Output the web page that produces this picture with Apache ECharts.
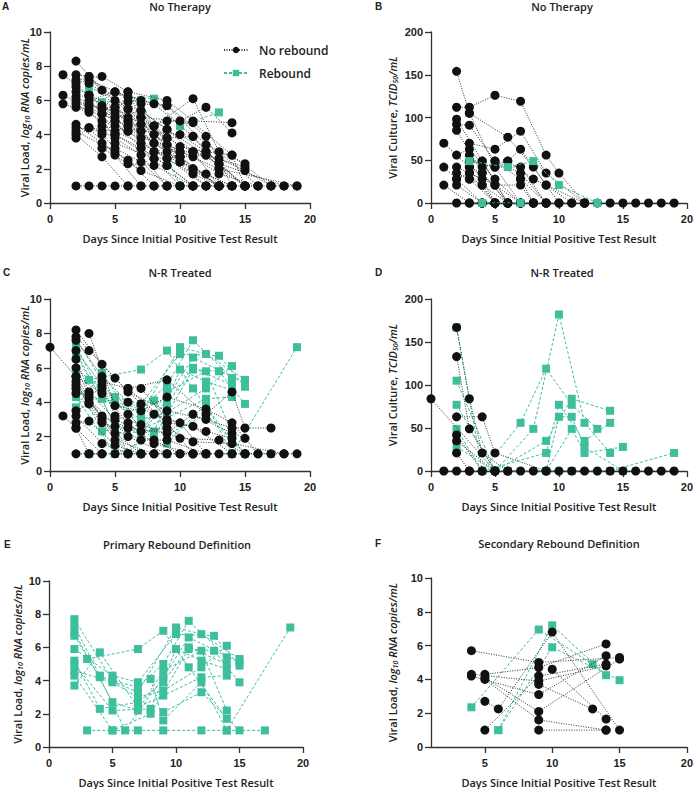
<!DOCTYPE html>
<html>
<head>
<meta charset="utf-8">
<title>Viral load and culture by day</title>
<script src="https://cdn.jsdelivr.net/npm/echarts@6/dist/echarts.min.js"></script>
<style>
  html, body { margin: 0; padding: 0; background: #fff; }
</style>
</head>
<body>
<div id="chart" style="width:696px;height:789px;"></div>
<script type="text/javascript">
// tick values
var dayTicks = [0, 5, 10, 15, 20];
var dayTicksF = [5, 10, 15, 20];
var loadTicks = [0, 2, 4, 6, 8, 10];
var cultureTicks = [0, 50, 100, 150, 200];

// A: no therapy, viral load (log10 copies/mL), one array per patient [day, value]
var noTherapyLoadNoRebound = [
  [[1,7.5],[3,6.3],[5,4.8],[7,3.2],[9,2.2],[11,1.0]],
  [[1,6.3],[4,5.2],[6,4.5],[9,3.0],[12,1.0]],
  [[1,5.8],[3,5.3],[5,4.0],[8,2.6],[10,1.0]],
  [[2,8.3],[4,6.6],[6,5.5],[8,4.0],[10,2.7],[13,1.0]],
  [[2,7.5],[3,7.4],[5,5.6],[7,4.2],[9,2.6],[12,1.0]],
  [[2,7.2],[4,7.4],[6,6.5],[9,6.0],[11,4.8],[14,4.7]],
  [[2,7.0],[3,7.2],[6,6.2],[8,5.8],[11,3.9],[13,2.3],[15,1.0]],
  [[2,6.8],[4,5.7],[6,4.8],[8,3.5],[11,2.0],[14,1.0]],
  [[2,6.5],[3,6.0],[5,6.5],[7,5.8],[9,5.7],[12,3.4],[15,2.3]],
  [[2,6.2],[5,5.0],[7,5.4],[9,4.3],[12,2.8],[15,2.1]],
  [[2,6.0],[3,5.7],[5,5.4],[7,5.0],[10,4.8],[12,5.6],[14,4.1]],
  [[2,5.8],[4,4.8],[6,4.2],[8,3.0],[10,2.4],[13,1.0]],
  [[2,5.6],[3,5.5],[5,4.5],[7,3.8],[9,3.4],[11,2.7],[13,1.7],[16,1.0]],
  [[2,4.6],[4,3.5],[6,2.5],[8,1.0]],
  [[2,4.4],[4,4.2],[5,3.8],[7,2.8],[9,1.0]],
  [[2,4.2],[5,3.0],[7,1.9],[10,1.0]],
  [[2,4.0],[4,2.7],[6,1.0]],
  [[2,3.8],[3,4.4],[5,2.8],[7,1.0]],
  [[2,1.0],[3,1.0],[4,1.0],[5,1.0],[6,1.0],[7,1.0],[8,1.0],[9,1.0],[10,1.0],[11,1.0],[12,1.0],[13,1.0],[14,1.0],[15,1.0],[16,1.0],[17,1.0],[18,1.0],[19,1.0]],
  [[3,7.0],[5,6.0],[7,4.6],[9,3.8],[11,3.0],[13,2.6],[15,1.9],[17,1.0]],
  [[3,6.3],[5,5.2],[8,4.5],[10,3.3],[12,3.0],[14,2.8],[15,1.0]],
  [[3,5.8],[4,5.5],[6,4.8],[8,4.0],[10,3.0],[13,2.0],[15,1.0]],
  [[3,4.4],[5,4.2],[7,3.5],[9,2.6],[11,1.7],[13,1.0]],
  [[4,5.5],[6,5.9],[8,4.5],[11,6.1],[13,3.0],[16,1.0]],
  [[4,4.5],[6,4.2],[9,4.8],[11,4.7],[14,2.8],[17,1.0]],
  [[4,4.0],[5,3.2],[7,2.4],[9,1.0]],
  [[4,3.2],[6,2.3],[8,2.2],[11,1.0]],
  [[5,6.5],[7,6.0],[9,5.7],[12,3.9],[14,1.0]],
  [[5,4.8],[7,4.2],[10,4.0],[12,3.0],[15,1.0]],
  [[5,3.5],[8,2.6],[10,2.7],[13,1.0]],
  [[6,5.0],[8,3.5],[10,3.0],[11,3.0],[13,2.3],[18,1.0]],
  [[7,5.4],[9,4.3],[11,3.0],[13,1.0]],
  [[3,7.4],[6,5.5],[8,4.5],[10,2.4],[12,1.7],[14,1.0]],
  [[3,6.3],[5,5.6],[7,4.6],[9,3.4],[11,2.0],[13,1.0]],
  [[4,5.2],[6,4.5],[8,3.0],[10,2.7],[12,2.8],[15,1.0]],
  [[5,4.0],[7,3.2],[9,2.2],[11,1.0]],
  [[6,6.5],[7,5.0],[9,3.8],[11,3.9],[13,2.0],[19,1.0]]
];
var noTherapyLoadRebound = [
  [[3,6.7],[6,6.2],[8,6.1],[10,4.5],[13,5.3]],
  [[4,5.9],[7,6.0],[10,1.0],[14,1.0]]
];

// B: no therapy, viral culture (TCID50/mL)
var noTherapyCultureNoRebound = [
  [[1,70],[3,42],[5,21],[7,0]],
  [[1,42],[2,28],[4,0]],
  [[1,21],[3,0],[5,0]],
  [[2,154],[3,105],[5,42],[7,0]],
  [[2,112],[3,112],[5,126],[7,119],[9,56],[10,35],[12,0]],
  [[2,98],[4,49],[6,0]],
  [[2,92],[3,91],[5,49],[7,28],[9,0]],
  [[2,85],[4,35],[6,0]],
  [[2,56],[3,63],[5,28],[7,0]],
  [[2,42],[4,28],[5,0]],
  [[2,35],[3,28],[4,21],[6,0]],
  [[2,28],[3,35],[5,0]],
  [[2,21],[4,0],[5,0]],
  [[2,0],[3,0],[4,0],[5,0],[6,0],[7,0],[8,0],[9,0],[10,0],[11,0],[12,0],[13,0],[14,0],[15,0],[16,0],[17,0],[18,0],[19,0]],
  [[3,105],[6,77],[8,42],[10,0]],
  [[3,70],[5,63],[7,84],[9,35],[12,0]],
  [[3,56],[4,42],[6,49],[8,28],[9,21],[11,0]],
  [[3,49],[5,42],[7,42],[9,0]],
  [[3,42],[4,35],[6,0]],
  [[3,35],[5,21],[7,21],[8,0]],
  [[4,49],[6,0],[8,0]],
  [[4,21],[5,0]],
  [[5,49],[7,35],[9,0]],
  [[6,49],[7,63],[9,21],[12,0]],
  [[7,28],[8,0]],
  [[3,28],[5,0]]
];
var noTherapyCultureRebound = [
  [[3,49],[6,42],[8,49],[10,21],[13,0]],
  [[4,0],[7,0]]
];

// C: N-R treated, viral load
var treatedLoadNoRebound = [
  [[0,7.2],[2,5.5],[4,3.0],[6,1.0]],
  [[1,3.2],[2,2.5],[3,1.0]],
  [[2,8.2],[4,6.2],[6,4.6],[9,3.5],[12,3.0],[14,2.5],[17,2.5]],
  [[2,7.8],[3,7.0],[5,5.4],[7,3.9],[9,2.8],[11,2.6],[14,1.0]],
  [[2,7.6],[4,5.5],[6,4.0],[8,3.3],[10,2.8],[12,1.0]],
  [[3,8.0],[5,3.8],[7,3.5],[9,4.3],[12,3.6],[14,2.8],[16,1.0]],
  [[2,7.0],[4,5.0],[5,3.2],[7,2.7],[10,1.9],[13,1.8],[15,1.0]],
  [[2,6.5],[3,4.6],[5,3.0],[7,2.3],[9,2.5],[11,1.7],[14,1.6],[18,1.0]],
  [[2,6.0],[3,4.4],[4,4.8],[6,3.3],[8,1.8],[10,1.0]],
  [[2,5.5],[4,4.5],[6,2.8],[8,1.6],[11,1.0]],
  [[2,5.2],[3,4.2],[5,2.6],[7,1.8],[9,1.8],[12,1.0]],
  [[2,5.0],[4,3.2],[6,2.5],[9,2.2],[11,3.3],[14,2.2],[15,1.9]],
  [[2,4.8],[3,4.0],[5,2.2],[7,1.0]],
  [[2,4.5],[4,2.8],[6,2.0],[9,1.0]],
  [[2,3.5],[3,3.9],[5,1.8],[8,1.0]],
  [[2,3.2],[4,1.6],[6,1.0]],
  [[2,2.8],[3,2.9],[5,1.5],[7,1.0]],
  [[2,1.0],[3,1.0],[4,1.0],[5,1.0],[6,1.0],[7,1.0],[8,1.0],[9,1.0],[10,1.0],[11,1.0],[12,1.0],[13,1.0],[14,1.0],[15,1.0],[16,1.0],[17,1.0],[18,1.0],[19,1.0]],
  [[6,4.8],[9,5.3],[12,3.3],[14,4.6],[15,2.5]],
  [[7,4.8],[9,3.0],[12,2.3],[14,1.9],[15,1.0]],
  [[2,2.5],[4,1.0]],
  [[4,5.2],[6,4.8],[9,2.8],[11,1.0]]
];
// C and E: patients with rebound (primary definition)
var treatedLoadRebound = [
  [[2,7.7],[5,4.0],[7,3.6],[9,5.0],[11,7.6],[14,5.4]],
  [[2,7.3],[4,4.3],[7,3.3],[10,7.2],[12,6.8],[15,5.3]],
  [[2,6.9],[5,2.7],[7,2.2],[9,4.6],[12,5.8],[14,2.2]],
  [[2,6.7],[4,4.2],[6,1.0],[9,4.2],[11,6.6],[15,5.1]],
  [[2,5.9],[5,4.3],[7,3.9],[10,6.8],[13,6.7],[15,4.9]],
  [[2,5.2],[4,2.3],[7,2.7],[9,3.9],[11,6.0],[14,5.0]],
  [[2,5.0],[5,2.2],[8,2.3],[10,5.9],[12,5.2],[14,4.7]],
  [[2,4.6],[5,3.9],[7,3.0],[9,3.4],[12,4.8],[14,6.1]],
  [[2,4.3],[5,1.0],[8,2.0],[11,5.9],[13,5.8],[15,3.9]],
  [[2,3.7],[4,5.7],[7,2.4],[9,3.1],[12,4.2],[14,4.3]],
  [[3,5.3],[7,5.9],[9,7.0],[11,4.8],[14,1.7]],
  [[3,1.0],[5,1.0],[7,1.0],[9,1.0],[12,1.0],[14,1.0],[17,1.0]],
  [[8,4.1],[9,1.6],[12,3.9],[14,1.0],[19,7.2]],
  [[9,2.1],[12,3.3],[15,1.0]]
];

// D: N-R treated, viral culture
var treatedCultureNoRebound = [
  [[0,84],[5,0]],
  [[1,0],[2,0],[3,0],[4,0],[5,0],[6,0],[7,0],[8,0],[9,0],[10,0],[11,0],[12,0],[13,0],[14,0],[15,0],[16,0],[17,0],[18,0],[19,0]],
  [[2,167],[3,84],[4,21],[6,0]],
  [[2,133],[3,49],[5,0]],
  [[2,63],[4,63],[5,21],[9,0]],
  [[2,42],[4,0]],
  [[2,35],[5,0]],
  [[2,21],[3,0]]
];
var treatedCultureRebound = [
  [[2,167],[4,0],[7,56],[9,119],[11,77],[13,49]],
  [[2,105],[5,0],[8,49],[10,182],[12,56],[14,21]],
  [[2,77],[5,0],[9,35],[11,84],[14,70]],
  [[2,49],[4,0],[9,21],[10,77],[12,35],[14,56]],
  [[2,28],[5,0],[9,0],[10,63],[11,63],[12,28],[15,0]],
  [[6,0],[9,0],[11,49],[12,21],[15,28]],
  [[9,0],[11,0],[14,0],[19,21]]
];

// F: secondary rebound definition, viral load
var secondaryNoRebound = [
  [[4,5.7],[9,5.0],[15,5.3]],
  [[4,4.3],[9,3.9],[14,4.8]],
  [[4,4.2],[9,3.1],[14,5.4]],
  [[5,4.3],[9,4.7],[14,6.1]],
  [[5,4.1],[9,2.1],[15,5.2]],
  [[5,4.0],[9,1.6],[14,1.0]],
  [[5,2.7],[6,2.25],[10,6.8],[15,1.0]],
  [[5,1.0],[9,4.2],[14,4.9]],
  [[9,3.7],[13,2.25]],
  [[9,1.0],[14,1.0]],
  [[10,4.6],[14,1.65]]
];
var secondaryRebound = [
  [[4,2.35],[9,6.95],[13,4.9]],
  [[6,1.0],[10,7.2],[14,4.25]],
  [[6,1.0],[10,5.9],[15,3.95]]
];

var panelTitles = ['No Therapy', 'No Therapy', 'N-R Treated', 'N-R Treated', 'Primary Rebound Definition', 'Secondary Rebound Definition'];
var panelLetters = ['A', 'B', 'C', 'D', 'E', 'F'];

var BLACK = '#111111';
var TEAL = '#3dbf9e';
var humanist = "'Open Sans', 'Noto Sans', sans-serif";
var tickFont = "'Liberation Sans', Arial, sans-serif";

var chart = echarts.init(document.getElementById('chart'), null, { renderer: 'svg' });

// plot boxes (pixels)
var boxes = [
  { left: 50, top: 32, width: 260, height: 171 },
  { left: 431, top: 32, width: 261, height: 171 },
  { left: 50, top: 299, width: 260, height: 172 },
  { left: 431, top: 299, width: 261, height: 172 },
  { left: 49, top: 581, width: 254, height: 167 },
  { left: 431, top: 578, width: 257, height: 170 }
];
var titlePos = [[180, 6], [562, 6], [180, 272], [562, 272], [177, 544], [559, 543]];
var letterPos = [[2, 6], [375, 6], [3, 272], [375, 272], [4, 544], [375, 543]];

var loadName = '{n|Viral Load, }{i|log}{s|10}{i| RNA copies/mL}';
var cultureName = '{n|Viral Culture, }{i|TCID}{s|50}{i|/mL}';
var nameRich = {
  n: { fontFamily: humanist, fontSize: 11, fontWeight: 600, color: '#222', lineHeight: 14 },
  i: { fontFamily: humanist, fontSize: 11, fontWeight: 600, fontStyle: 'italic', color: '#222', lineHeight: 14 },
  s: { fontFamily: humanist, fontSize: 7, fontWeight: 600, fontStyle: 'italic', color: '#222', lineHeight: 9, verticalAlign: 'bottom' }
};

var axisLineStyle = { color: '#333', width: 1.3 };

function makeX(i, min, ticks) {
  var ax = {
    type: 'value', gridIndex: i, min: min, max: 20,
    axisLine: { show: true, onZero: false, lineStyle: axisLineStyle },
    axisTick: { show: true, length: 6, lineStyle: axisLineStyle },
    axisLabel: { color: '#222', fontFamily: tickFont, fontWeight: 'bold', fontSize: 11, margin: 10 },
    splitLine: { show: false },
    name: 'Days Since Initial Positive Test Result',
    nameLocation: 'middle', nameGap: 30, nameMoveOverlap: false,
    nameTextStyle: { fontFamily: humanist, fontSize: 11, fontWeight: 600, color: '#222' }
  };
  if (min === 0) {
    ax.interval = 5;
  } else {
    ax.interval = 1;
    ax.axisLabel.customValues = ticks;
    ax.axisTick.customValues = ticks;
  }
  return ax;
}

function makeY(i, ticks, name, gap) {
  return {
    type: 'value', gridIndex: i, min: ticks[0], max: ticks[ticks.length - 1],
    interval: ticks[1] - ticks[0],
    axisLine: { show: true, onZero: false, lineStyle: axisLineStyle },
    axisTick: { show: true, length: 6, lineStyle: axisLineStyle },
    axisLabel: { color: '#222', fontFamily: tickFont, fontWeight: 'bold', fontSize: 11, margin: 8 },
    splitLine: { show: false },
    name: name, nameLocation: 'middle', nameGap: gap, nameMoveOverlap: false,
    nameTextStyle: { rich: nameRich }
  };
}

var series = [];
// onTop: draw the rebound marks above the black ones in this panel
function addLines(i, list, rebound, onTop) {
  list.forEach(function (p) {
    series.push({
      name: rebound ? 'Rebound' : 'No rebound',
      type: 'line',
      xAxisIndex: i, yAxisIndex: i,
      data: p,
      symbol: rebound ? 'rect' : 'circle',
      symbolSize: rebound ? 8 : 9,
      showAllSymbol: true,
      itemStyle: { color: rebound ? TEAL : BLACK, opacity: 1 },
      lineStyle: rebound ? { color: TEAL, width: 1, type: [3, 2] } : { color: '#333', width: 1, type: [1, 1.5] },
      z: rebound ? (onTop ? 3 : 1) : 2,
      silent: true,
      animation: false
    });
  });
}

addLines(0, noTherapyLoadNoRebound, false);
addLines(0, noTherapyLoadRebound, true, false);
addLines(1, noTherapyCultureNoRebound, false);
addLines(1, noTherapyCultureRebound, true, true);
addLines(2, treatedLoadNoRebound, false);
addLines(2, treatedLoadRebound, true, false);
addLines(3, treatedCultureNoRebound, false);
addLines(3, treatedCultureRebound, true, false);
addLines(4, treatedLoadRebound, true, true);
addLines(5, secondaryNoRebound, false);
addLines(5, secondaryRebound, true, false);

var graphics = [];
panelTitles.forEach(function (t, i) {
  graphics.push({
    type: 'text', x: titlePos[i][0], y: titlePos[i][1], silent: true,
    style: { text: t, fill: '#222', font: '600 11px ' + humanist, textAlign: 'center', textVerticalAlign: 'middle', align: 'center', verticalAlign: 'middle' }
  });
  graphics.push({
    type: 'text', x: letterPos[i][0], y: letterPos[i][1], silent: true,
    style: { text: panelLetters[i], fill: '#222', font: 'bold 10px ' + tickFont, textAlign: 'left', textVerticalAlign: 'middle', align: 'left', verticalAlign: 'middle' }
  });
});

chart.setOption({
  animation: false,
  backgroundColor: '#fff',
  grid: boxes.map(function (b) { return { left: b.left, top: b.top, width: b.width, height: b.height, containLabel: false }; }),
  xAxis: [
    makeX(0, 0, dayTicks), makeX(1, 0, dayTicks), makeX(2, 0, dayTicks),
    makeX(3, 0, dayTicks), makeX(4, 0, dayTicks), makeX(5, 1, dayTicksF)
  ],
  yAxis: [
    makeY(0, loadTicks, loadName, 19),
    makeY(1, cultureTicks, cultureName, 32),
    makeY(2, loadTicks, loadName, 19),
    makeY(3, cultureTicks, cultureName, 32),
    makeY(4, loadTicks, loadName, 25),
    makeY(5, loadTicks, loadName, 32)
  ],
  legend: {
    data: ['No rebound', 'Rebound'],
    orient: 'vertical', left: 218, top: 39,
    itemWidth: 24, itemHeight: 8, itemGap: 11,
    textStyle: { fontFamily: humanist, fontSize: 12, fontWeight: 600, color: '#222', padding: [0, 0, 0, 6] },
    selectedMode: false
  },
  graphic: graphics,
  series: series
});
</script>
</body>
</html>
